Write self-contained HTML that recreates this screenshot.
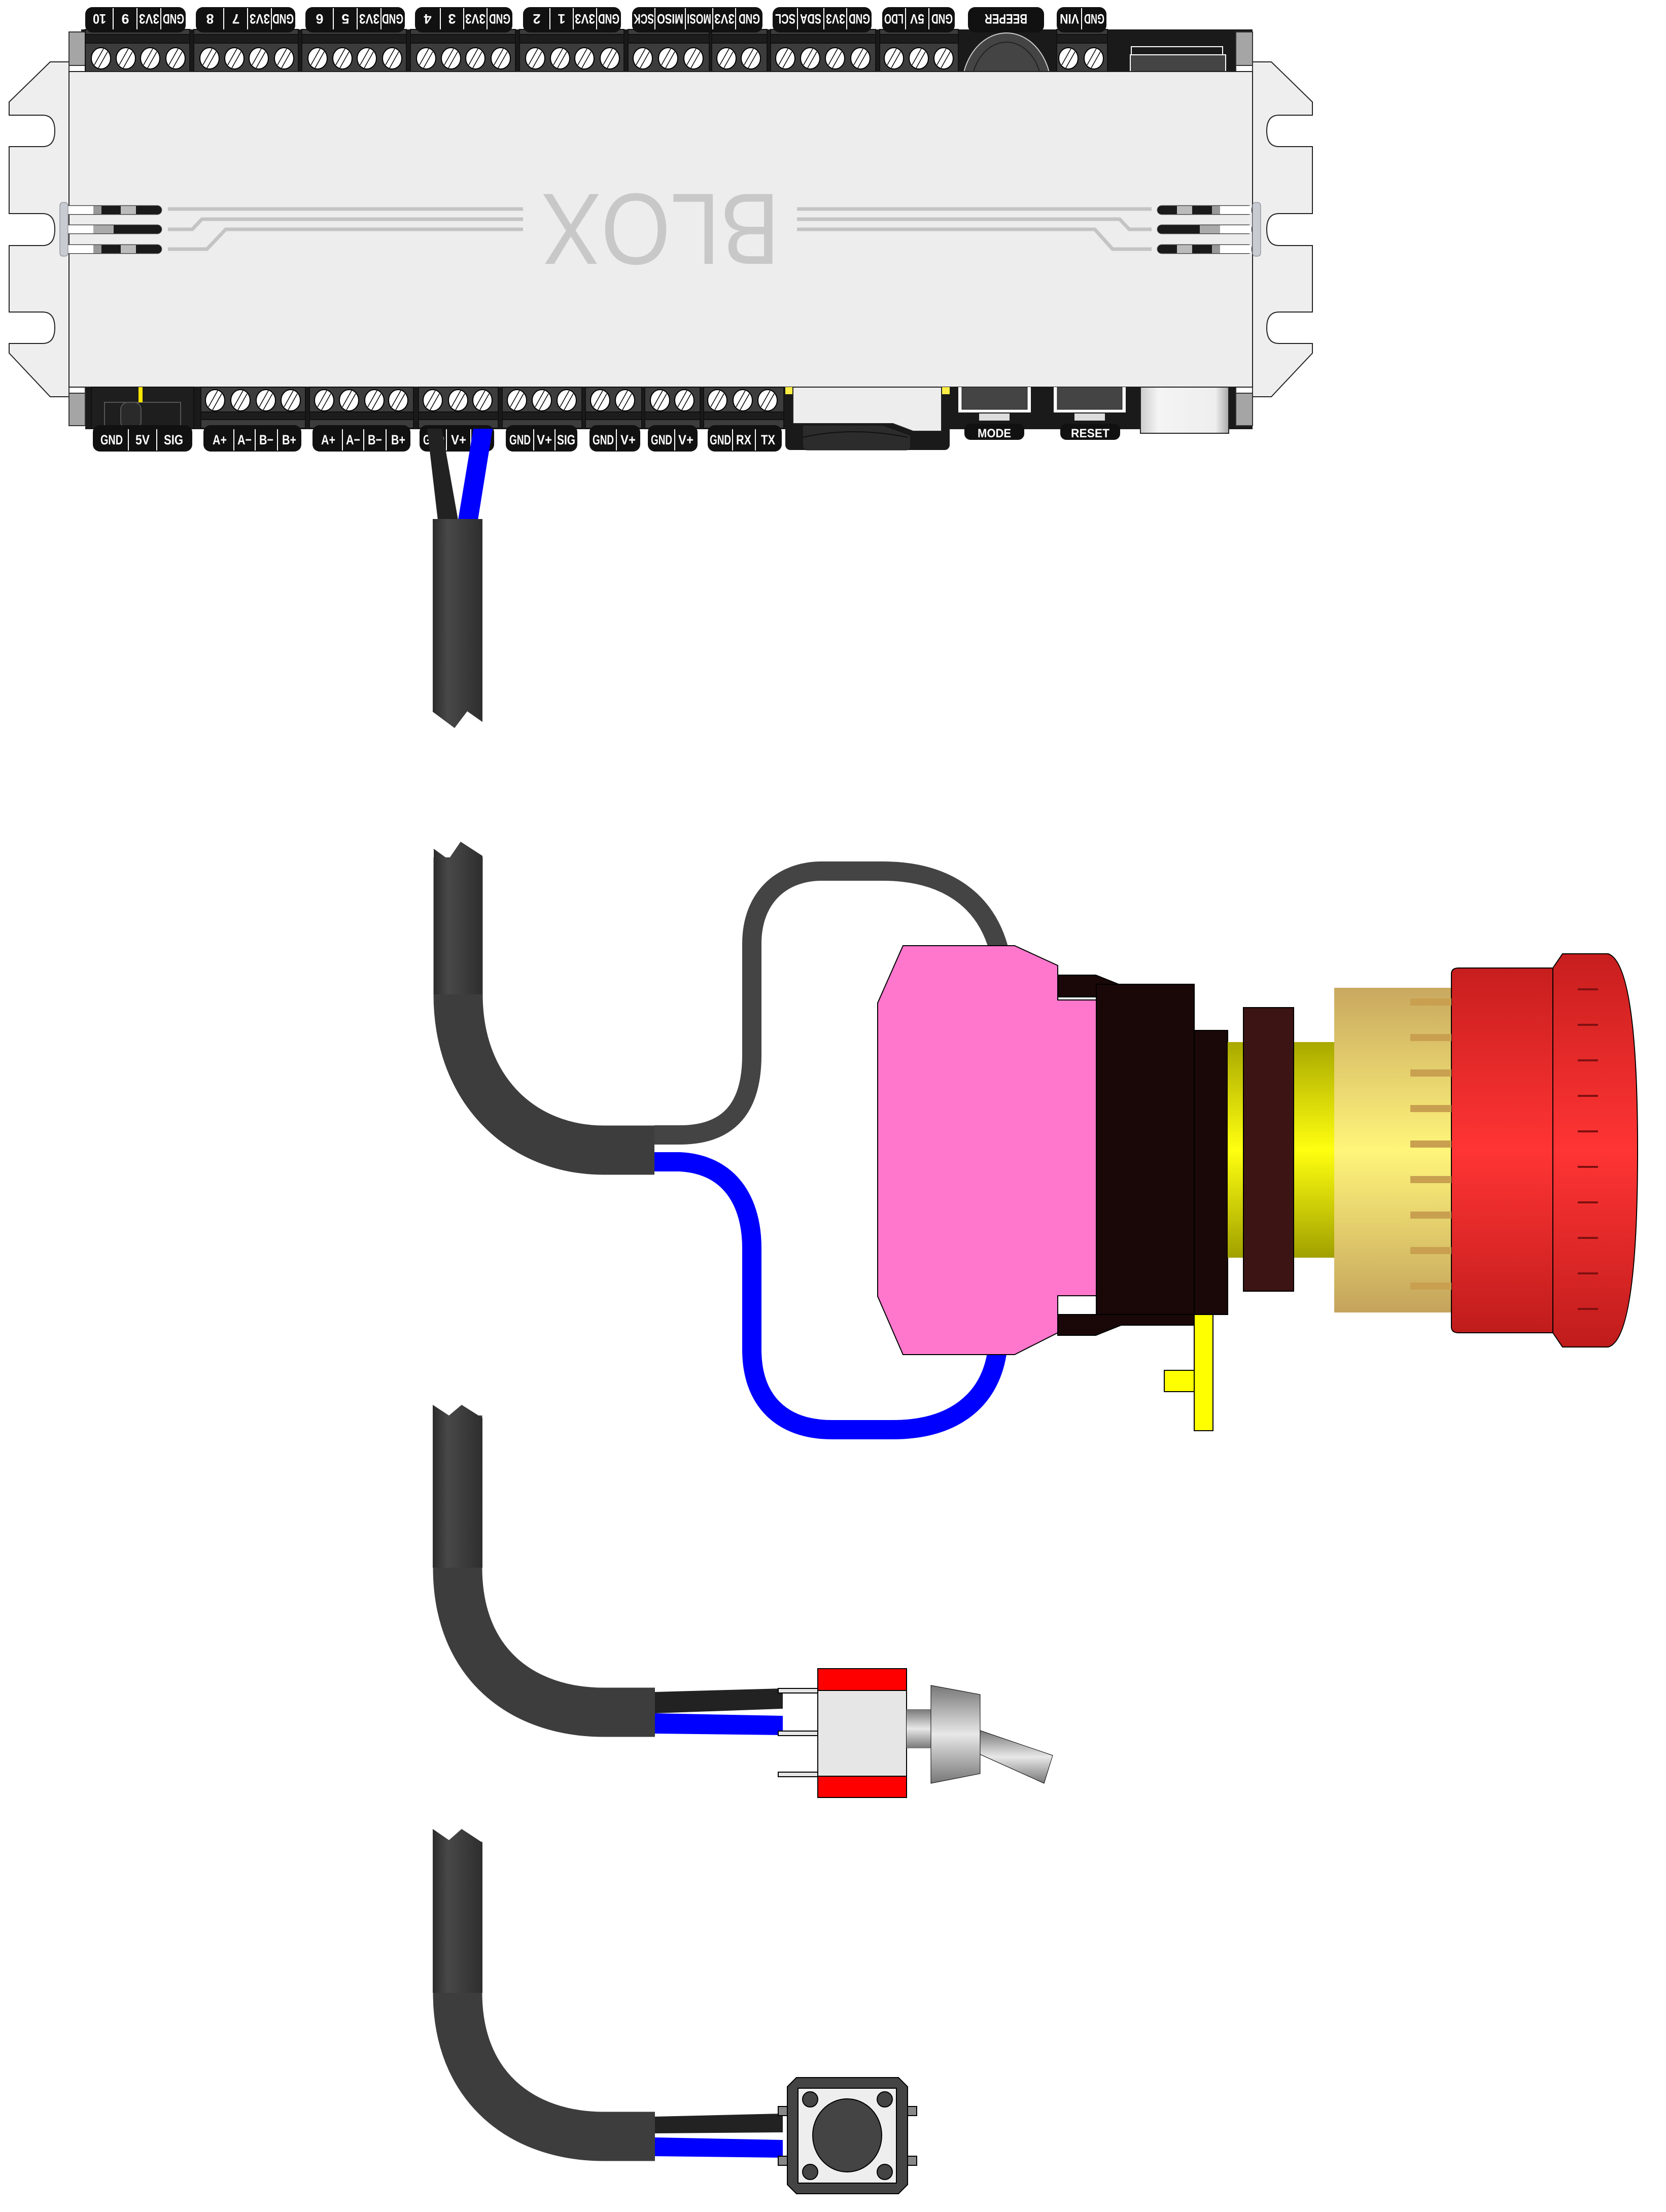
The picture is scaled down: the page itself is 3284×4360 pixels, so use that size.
<!DOCTYPE html>
<html><head><meta charset="utf-8"><style>html,body{margin:0;padding:0;background:#fff}svg{display:block}
.t{font-family:"Liberation Sans",sans-serif;font-weight:bold;font-size:27px;fill:#fff;text-anchor:middle}</style></head>
<body>
<svg width="3284" height="4360" viewBox="0 0 3284 4360" xmlns="http://www.w3.org/2000/svg">
<defs>
<g id="s"><ellipse rx="19" ry="21" fill="#fff" stroke="#000" stroke-width="2"/><line x1="-13" y1="13" x2="5" y2="-19" stroke="#000" stroke-width="1.5"/><line x1="-5" y1="19" x2="13" y2="-13" stroke="#000" stroke-width="1.5"/></g>
<linearGradient id="cg" x1="0" x2="1" y1="0" y2="0"><stop offset="0" stop-color="#2c2c2c"/><stop offset="0.3" stop-color="#484848"/><stop offset="1" stop-color="#2e2e2e"/></linearGradient>
<linearGradient id="yg" x1="0" x2="0" y1="0" y2="1"><stop offset="0" stop-color="#a8a800"/><stop offset="0.5" stop-color="#ffff10"/><stop offset="1" stop-color="#a0a000"/></linearGradient>
<linearGradient id="tg" x1="0" x2="0" y1="0" y2="1"><stop offset="0" stop-color="#c9a860"/><stop offset="0.5" stop-color="#fff57a"/><stop offset="1" stop-color="#c4a35c"/></linearGradient>
<linearGradient id="rg" x1="0" x2="0" y1="0" y2="1"><stop offset="0" stop-color="#c81e1e"/><stop offset="0.5" stop-color="#ff3434"/><stop offset="1" stop-color="#c01c1c"/></linearGradient>
<linearGradient id="mg" x1="0" x2="0" y1="0" y2="1"><stop offset="0" stop-color="#777"/><stop offset="0.5" stop-color="#e8e8e8"/><stop offset="1" stop-color="#777"/></linearGradient>
<linearGradient id="ug" x1="0" x2="1" y1="0" y2="0"><stop offset="0" stop-color="#ccc"/><stop offset="0.2" stop-color="#f4f4f4"/><stop offset="0.85" stop-color="#eee"/><stop offset="1" stop-color="#aaa"/></linearGradient>
</defs>

<!-- flanges -->
<path d="M136 122 L99 122 L18 201 L18 227 L84 227 Q108 227 108 258 Q108 289 84 289 L18 289 L18 421 L84 421 Q108 421 108 452 Q108 484 84 484 L18 484 L18 615 L84 615 Q108 615 108 646 Q108 677 84 677 L18 677 L18 696 L99 782 L136 782 Z" fill="#eeeeee" stroke="#222" stroke-width="2"/>
<g transform="translate(2605,0) scale(-1,1)"><path d="M136 122 L99 122 L18 201 L18 227 L84 227 Q108 227 108 258 Q108 289 84 289 L18 289 L18 421 L84 421 Q108 421 108 452 Q108 484 84 484 L18 484 L18 615 L84 615 Q108 615 108 646 Q108 677 84 677 L18 677 L18 696 L99 782 L136 782 Z" fill="#eeeeee" stroke="#222" stroke-width="2"/></g>

<!-- dark strips -->
<rect x="160" y="58" width="2309" height="84" fill="#1a1a1a"/>
<rect x="168" y="760" width="2301" height="86" fill="#1a1a1a"/>
<ellipse cx="1984" cy="175" rx="88" ry="110" fill="#444" stroke="#ccc" stroke-width="2"/>
<ellipse cx="1984" cy="175" rx="70" ry="92" fill="none" stroke="#222" stroke-width="2"/>
<rect x="2230" y="92" width="180" height="20" fill="none" stroke="#fff" stroke-width="2"/>
<rect x="2228" y="108" width="188" height="34" fill="#444" stroke="#fff" stroke-width="2"/>
<rect x="136" y="63" width="32" height="66" fill="#a5a5a5" stroke="#333" stroke-width="2"/>
<rect x="136" y="129" width="32" height="33" fill="#fff" stroke="#333" stroke-width="2"/>
<rect x="136" y="742" width="32" height="33" fill="#fff" stroke="#333" stroke-width="2"/>
<rect x="136" y="775" width="32" height="64" fill="#a5a5a5" stroke="#333" stroke-width="2"/>
<rect x="2436" y="63" width="33" height="66" fill="#a5a5a5" stroke="#333" stroke-width="2"/>
<rect x="2436" y="129" width="33" height="33" fill="#fff" stroke="#333" stroke-width="2"/>
<rect x="2436" y="742" width="33" height="33" fill="#fff" stroke="#333" stroke-width="2"/>
<rect x="2436" y="775" width="33" height="64" fill="#a5a5a5" stroke="#333" stroke-width="2"/>

<!-- top terminal blocks -->
<g stroke="#111" stroke-width="2">
<g fill="#3c3c3c">
<rect x="168" y="58" width="206" height="83"/><rect x="382" y="58" width="206" height="83"/><rect x="595" y="58" width="206" height="83"/><rect x="809" y="58" width="207" height="83"/><rect x="1024" y="58" width="206" height="83"/><rect x="1238" y="58" width="160" height="83"/><rect x="1403" y="58" width="109" height="83"/><rect x="1519" y="58" width="207" height="83"/><rect x="1734" y="58" width="155" height="83"/><rect x="2083" y="58" width="100" height="83"/>
</g>
<g fill="#1d1d1d">
<rect x="168" y="68" width="206" height="17"/><rect x="382" y="68" width="206" height="17"/><rect x="595" y="68" width="206" height="17"/><rect x="809" y="68" width="207" height="17"/><rect x="1024" y="68" width="206" height="17"/><rect x="1238" y="68" width="160" height="17"/><rect x="1403" y="68" width="109" height="17"/><rect x="1519" y="68" width="207" height="17"/><rect x="1734" y="68" width="155" height="17"/><rect x="2083" y="68" width="100" height="17"/>
</g></g>
<g transform="translate(0,115)">
<use href="#s" x="199"/><use href="#s" x="248"/><use href="#s" x="296"/><use href="#s" x="346"/>
<use href="#s" x="413"/><use href="#s" x="462"/><use href="#s" x="510"/><use href="#s" x="560"/>
<use href="#s" x="626"/><use href="#s" x="675"/><use href="#s" x="723"/><use href="#s" x="773"/>
<use href="#s" x="840"/><use href="#s" x="889"/><use href="#s" x="937"/><use href="#s" x="987"/>
<use href="#s" x="1055"/><use href="#s" x="1104"/><use href="#s" x="1152"/><use href="#s" x="1202"/>
<use href="#s" x="1267"/><use href="#s" x="1317"/><use href="#s" x="1367"/>
<use href="#s" x="1432"/><use href="#s" x="1480"/>
<use href="#s" x="1548"/><use href="#s" x="1597"/><use href="#s" x="1646"/><use href="#s" x="1696"/>
<use href="#s" x="1762"/><use href="#s" x="1811"/><use href="#s" x="1860"/>
<use href="#s" x="2106"/><use href="#s" x="2156"/>
</g>

<!-- top labels -->
<g fill="#111">
<rect x="168" y="14" width="198" height="50" rx="14"/><rect x="386" y="14" width="196" height="50" rx="14"/><rect x="602" y="14" width="196" height="50" rx="14"/><rect x="818" y="14" width="192" height="50" rx="14"/><rect x="1031" y="14" width="193" height="50" rx="14"/><rect x="1246" y="14" width="257" height="50" rx="14"/><rect x="1523" y="14" width="195" height="50" rx="14"/><rect x="1739" y="14" width="143" height="50" rx="14"/><rect x="1908" y="14" width="150" height="50" rx="14"/><rect x="2083" y="14" width="98" height="50" rx="14"/>
</g>
<g stroke="#fff" stroke-width="2">
<line x1="223" y1="16" x2="223" y2="58"/><line x1="270" y1="16" x2="270" y2="58"/><line x1="317" y1="16" x2="317" y2="58"/>
<line x1="441" y1="16" x2="441" y2="58"/><line x1="488" y1="16" x2="488" y2="58"/><line x1="535" y1="16" x2="535" y2="58"/>
<line x1="657" y1="16" x2="657" y2="58"/><line x1="704" y1="16" x2="704" y2="58"/><line x1="751" y1="16" x2="751" y2="58"/>
<line x1="868" y1="16" x2="868" y2="58"/><line x1="914" y1="16" x2="914" y2="58"/><line x1="960" y1="16" x2="960" y2="58"/>
<line x1="1084" y1="16" x2="1084" y2="58"/><line x1="1130" y1="16" x2="1130" y2="58"/><line x1="1176" y1="16" x2="1176" y2="58"/>
<line x1="1291" y1="16" x2="1291" y2="58"/><line x1="1351" y1="16" x2="1351" y2="58"/><line x1="1405" y1="16" x2="1405" y2="58"/><line x1="1450" y1="16" x2="1450" y2="58"/>
<line x1="1572" y1="16" x2="1572" y2="58"/><line x1="1624" y1="16" x2="1624" y2="58"/><line x1="1669" y1="16" x2="1669" y2="58"/>
<line x1="1785" y1="16" x2="1785" y2="58"/><line x1="1831" y1="16" x2="1831" y2="58"/>
<line x1="2132" y1="16" x2="2132" y2="58"/>
</g>
<g class="t" lengthAdjust="spacingAndGlyphs">
<text x="196" y="46" transform="rotate(180 196 37)" textLength="26" lengthAdjust="spacingAndGlyphs">10</text><text x="247" y="46" transform="rotate(180 247 37)">9</text><text x="294" y="46" transform="rotate(180 294 37)" textLength="40" lengthAdjust="spacingAndGlyphs">3V3</text><text x="342" y="46" transform="rotate(180 342 37)" textLength="42" lengthAdjust="spacingAndGlyphs">GND</text>
<text x="414" y="46" transform="rotate(180 414 37)">8</text><text x="465" y="46" transform="rotate(180 465 37)">7</text><text x="512" y="46" transform="rotate(180 512 37)" textLength="40" lengthAdjust="spacingAndGlyphs">3V3</text><text x="558" y="46" transform="rotate(180 558 37)" textLength="42" lengthAdjust="spacingAndGlyphs">GND</text>
<text x="630" y="46" transform="rotate(180 630 37)">6</text><text x="681" y="46" transform="rotate(180 681 37)">5</text><text x="728" y="46" transform="rotate(180 728 37)" textLength="40" lengthAdjust="spacingAndGlyphs">3V3</text><text x="774" y="46" transform="rotate(180 774 37)" textLength="42" lengthAdjust="spacingAndGlyphs">GND</text>
<text x="843" y="46" transform="rotate(180 843 37)">4</text><text x="891" y="46" transform="rotate(180 891 37)">3</text><text x="937" y="46" transform="rotate(180 937 37)" textLength="40" lengthAdjust="spacingAndGlyphs">3V3</text><text x="985" y="46" transform="rotate(180 985 37)" textLength="42" lengthAdjust="spacingAndGlyphs">GND</text>
<text x="1058" y="46" transform="rotate(180 1058 37)">2</text><text x="1107" y="46" transform="rotate(180 1107 37)">1</text><text x="1153" y="46" transform="rotate(180 1153 37)" textLength="40" lengthAdjust="spacingAndGlyphs">3V3</text><text x="1200" y="46" transform="rotate(180 1200 37)" textLength="42" lengthAdjust="spacingAndGlyphs">GND</text>
<text x="1269" y="46" transform="rotate(180 1269 37)" textLength="40" lengthAdjust="spacingAndGlyphs">SCK</text><text x="1321" y="46" transform="rotate(180 1321 37)" textLength="52" lengthAdjust="spacingAndGlyphs">MISO</text><text x="1378" y="46" transform="rotate(180 1378 37)" textLength="48" lengthAdjust="spacingAndGlyphs">MOSI</text><text x="1428" y="46" transform="rotate(180 1428 37)" textLength="40" lengthAdjust="spacingAndGlyphs">3V3</text><text x="1477" y="46" transform="rotate(180 1477 37)" textLength="42" lengthAdjust="spacingAndGlyphs">GND</text>
<text x="1548" y="46" transform="rotate(180 1548 37)" textLength="40" lengthAdjust="spacingAndGlyphs">SCL</text><text x="1598" y="46" transform="rotate(180 1598 37)" textLength="42" lengthAdjust="spacingAndGlyphs">SDA</text><text x="1647" y="46" transform="rotate(180 1647 37)" textLength="38" lengthAdjust="spacingAndGlyphs">3V3</text><text x="1694" y="46" transform="rotate(180 1694 37)" textLength="42" lengthAdjust="spacingAndGlyphs">GND</text>
<text x="1762" y="46" transform="rotate(180 1762 37)" textLength="38" lengthAdjust="spacingAndGlyphs">LDO</text><text x="1808" y="46" transform="rotate(180 1808 37)" textLength="28" lengthAdjust="spacingAndGlyphs">5V</text><text x="1857" y="46" transform="rotate(180 1857 37)" textLength="42" lengthAdjust="spacingAndGlyphs">GND</text>
<text x="1983" y="46" transform="rotate(180 1983 37)" textLength="84" lengthAdjust="spacingAndGlyphs">BEEPER</text>
<text x="2108" y="46" transform="rotate(180 2108 37)" textLength="38" lengthAdjust="spacingAndGlyphs">VIN</text><text x="2157" y="46" transform="rotate(180 2157 37)" textLength="40" lengthAdjust="spacingAndGlyphs">GND</text>
</g>

<!-- main panel -->
<rect x="136" y="141" width="2333" height="622" fill="#ededed" stroke="#222" stroke-width="2"/>
<g fill="none" stroke="#c4c4c4" stroke-width="7">
<path d="M331 412 L1031 412"/><path d="M331 452 L379 452 L398 432 L1031 432"/><path d="M331 491 L408 491 L445 452 L1031 452"/>
<path d="M1571 412 L2270 412"/><path d="M1571 432 L2207 432 L2226 452 L2270 452"/><path d="M1571 452 L2158 452 L2193 491 L2270 491"/>
</g>
<text x="1302" y="451" transform="rotate(180 1302 451)" font-family="'Liberation Sans',sans-serif" font-size="200" fill="#c8c8c8" text-anchor="middle" dominant-baseline="central" textLength="470" lengthAdjust="spacingAndGlyphs">BLOX</text>

<!-- side connectors -->
<g>
<rect x="120" y="405" width="199" height="18" rx="9" fill="#1a1a1a" stroke="#666"/><rect x="122" y="406" width="62" height="16" fill="#fff"/><rect x="184" y="406" width="16" height="16" fill="#999"/><rect x="238" y="406" width="30" height="16" fill="#bbb"/>
<rect x="120" y="443" width="199" height="18" rx="9" fill="#1a1a1a" stroke="#666"/><rect x="122" y="444" width="62" height="16" fill="#fff"/><rect x="184" y="444" width="40" height="16" fill="#aaa"/>
<rect x="120" y="482" width="199" height="18" rx="9" fill="#1a1a1a" stroke="#666"/><rect x="122" y="483" width="62" height="16" fill="#fff"/><rect x="184" y="483" width="16" height="16" fill="#999"/><rect x="238" y="483" width="30" height="16" fill="#bbb"/>
<rect x="118" y="399" width="16" height="106" rx="6" fill="#c8ccd2" stroke="#778"/>
<rect x="2281" y="405" width="188" height="18" rx="9" fill="#1a1a1a" stroke="#666"/><rect x="2405" y="406" width="62" height="16" fill="#fff"/><rect x="2389" y="406" width="16" height="16" fill="#999"/><rect x="2320" y="406" width="30" height="16" fill="#bbb"/>
<rect x="2281" y="443" width="188" height="18" rx="9" fill="#1a1a1a" stroke="#666"/><rect x="2405" y="444" width="62" height="16" fill="#fff"/><rect x="2365" y="444" width="40" height="16" fill="#aaa"/>
<rect x="2281" y="482" width="188" height="18" rx="9" fill="#1a1a1a" stroke="#666"/><rect x="2405" y="483" width="62" height="16" fill="#fff"/><rect x="2389" y="483" width="16" height="16" fill="#999"/><rect x="2320" y="483" width="30" height="16" fill="#bbb"/>
<rect x="2469" y="399" width="16" height="106" rx="6" fill="#c8ccd2" stroke="#778"/>
</g>

<!-- bottom blocks -->
<rect x="180" y="763" width="202" height="82" fill="#1e1e1e" stroke="#111" stroke-width="2"/>
<rect x="206" y="793" width="150" height="52" fill="none" stroke="#555" stroke-width="2"/>
<rect x="238" y="793" width="40" height="52" rx="14" fill="#2a2a2a" stroke="#555" stroke-width="2"/>
<rect x="273" y="763" width="8" height="30" fill="#ffe600"/>
<g stroke="#111" stroke-width="2">
<g fill="#3c3c3c">
<rect x="396" y="763" width="206" height="81"/><rect x="610" y="763" width="205" height="81"/><rect x="825" y="763" width="157" height="81"/><rect x="990" y="763" width="157" height="81"/><rect x="1154" y="763" width="111" height="81"/><rect x="1271" y="763" width="109" height="81"/><rect x="1387" y="763" width="158" height="81"/>
</g>
<g fill="#1d1d1d">
<rect x="396" y="812" width="206" height="15"/><rect x="610" y="812" width="205" height="15"/><rect x="825" y="812" width="157" height="15"/><rect x="990" y="812" width="157" height="15"/><rect x="1154" y="812" width="111" height="15"/><rect x="1271" y="812" width="109" height="15"/><rect x="1387" y="812" width="158" height="15"/>
</g></g>
<g transform="translate(0,789)">
<use href="#s" x="424"/><use href="#s" x="474"/><use href="#s" x="524"/><use href="#s" x="573"/>
<use href="#s" x="639"/><use href="#s" x="688"/><use href="#s" x="738"/><use href="#s" x="785"/>
<use href="#s" x="853"/><use href="#s" x="903"/><use href="#s" x="951"/>
<use href="#s" x="1019"/><use href="#s" x="1068"/><use href="#s" x="1117"/>
<use href="#s" x="1183"/><use href="#s" x="1232"/>
<use href="#s" x="1301"/><use href="#s" x="1349"/>
<use href="#s" x="1414"/><use href="#s" x="1464"/><use href="#s" x="1513"/>
</g>
<rect x="1548" y="763" width="324" height="124" rx="10" fill="#1a1a1a"/>
<rect x="1548" y="763" width="18" height="14" fill="#ffee44"/><rect x="1854" y="763" width="18" height="14" fill="#ffee44"/>
<path d="M1563 763 L1856 763 L1856 850 L1800 850 L1760 835 L1563 835 Z" fill="#ededed" stroke="#222" stroke-width="2"/>
<path d="M1582 838 L1740 838 L1795 858 L1795 880 Q1795 887 1785 887 L1592 887 Q1582 887 1582 877 Z" fill="#2c2c2c" stroke="#111"/>
<path d="M1582 862 Q1680 840 1790 862" fill="none" stroke="#111" stroke-width="2"/>
<rect x="1872" y="763" width="376" height="78" fill="#1a1a1a"/>
<rect x="1889" y="763" width="143" height="50" fill="#fff"/><rect x="1896" y="763" width="129" height="44" fill="#444" stroke="#222"/>
<rect x="1930" y="815" width="60" height="14" fill="#ddd"/>
<rect x="2077" y="763" width="142" height="50" fill="#fff"/><rect x="2084" y="763" width="128" height="44" fill="#444" stroke="#222"/>
<rect x="2118" y="815" width="60" height="14" fill="#ddd"/>
<rect x="2248" y="763" width="174" height="91" fill="url(#ug)" stroke="#222" stroke-width="2"/>
<g fill="#111">
<rect x="183" y="838" width="196" height="52" rx="14"/><rect x="401" y="838" width="193" height="52" rx="14"/><rect x="616" y="838" width="193" height="52" rx="14"/><rect x="827" y="838" width="147" height="52" rx="14"/><rect x="997" y="838" width="141" height="52" rx="14"/><rect x="1162" y="838" width="100" height="52" rx="14"/><rect x="1277" y="838" width="98" height="52" rx="14"/><rect x="1395" y="838" width="146" height="52" rx="14"/><rect x="1901" y="835" width="118" height="32" rx="12"/><rect x="2090" y="835" width="118" height="32" rx="12"/>
</g>
<g stroke="#fff" stroke-width="2">
<line x1="253" y1="846" x2="253" y2="888"/><line x1="309" y1="846" x2="309" y2="888"/>
<line x1="461" y1="846" x2="461" y2="888"/><line x1="503" y1="846" x2="503" y2="888"/><line x1="547" y1="846" x2="547" y2="888"/>
<line x1="675" y1="846" x2="675" y2="888"/><line x1="717" y1="846" x2="717" y2="888"/><line x1="761" y1="846" x2="761" y2="888"/>
<line x1="880" y1="846" x2="880" y2="888"/><line x1="928" y1="846" x2="928" y2="888"/>
<line x1="1052" y1="846" x2="1052" y2="888"/><line x1="1094" y1="846" x2="1094" y2="888"/>
<line x1="1215" y1="846" x2="1215" y2="888"/>
<line x1="1330" y1="846" x2="1330" y2="888"/>
<line x1="1444" y1="846" x2="1444" y2="888"/><line x1="1489" y1="846" x2="1489" y2="888"/>
</g>
<g class="t">
<text x="220" y="876" textLength="44" lengthAdjust="spacingAndGlyphs">GND</text><text x="281" y="876" textLength="28" lengthAdjust="spacingAndGlyphs">5V</text><text x="342" y="876" textLength="38" lengthAdjust="spacingAndGlyphs">SIG</text>
<text x="433" y="876" textLength="28" lengthAdjust="spacingAndGlyphs">A+</text><text x="482" y="876" textLength="28" lengthAdjust="spacingAndGlyphs">A−</text><text x="525" y="876" textLength="28" lengthAdjust="spacingAndGlyphs">B−</text><text x="570" y="876" textLength="28" lengthAdjust="spacingAndGlyphs">B+</text>
<text x="647" y="876" textLength="28" lengthAdjust="spacingAndGlyphs">A+</text><text x="696" y="876" textLength="28" lengthAdjust="spacingAndGlyphs">A−</text><text x="739" y="876" textLength="28" lengthAdjust="spacingAndGlyphs">B−</text><text x="785" y="876" textLength="28" lengthAdjust="spacingAndGlyphs">B+</text>
<text x="855" y="876" textLength="42" lengthAdjust="spacingAndGlyphs">GND</text><text x="904" y="876" textLength="30" lengthAdjust="spacingAndGlyphs">V+</text><text x="950" y="876" textLength="36" lengthAdjust="spacingAndGlyphs">SIG</text>
<text x="1025" y="876" textLength="42" lengthAdjust="spacingAndGlyphs">GND</text><text x="1073" y="876" textLength="30" lengthAdjust="spacingAndGlyphs">V+</text><text x="1116" y="876" textLength="36" lengthAdjust="spacingAndGlyphs">SIG</text>
<text x="1189" y="876" textLength="42" lengthAdjust="spacingAndGlyphs">GND</text><text x="1238" y="876" textLength="30" lengthAdjust="spacingAndGlyphs">V+</text>
<text x="1304" y="876" textLength="42" lengthAdjust="spacingAndGlyphs">GND</text><text x="1352" y="876" textLength="30" lengthAdjust="spacingAndGlyphs">V+</text>
<text x="1420" y="876" textLength="42" lengthAdjust="spacingAndGlyphs">GND</text><text x="1466" y="876" textLength="30" lengthAdjust="spacingAndGlyphs">RX</text><text x="1514" y="876" textLength="28" lengthAdjust="spacingAndGlyphs">TX</text>
<text x="1960" y="862" font-size="24" textLength="66" lengthAdjust="spacingAndGlyphs">MODE</text><text x="2149" y="862" font-size="24" textLength="76" lengthAdjust="spacingAndGlyphs">RESET</text>
</g>

<!-- wires from board -->
<polygon points="842,845 871,845 903,1025 863,1025" fill="#222"/>
<polygon points="933,845 971,845 942,1025 903,1025" fill="#0000ff"/>
<polygon points="853,1023 951,1023 951,1423 921,1402 896,1435 853,1403" fill="url(#cg)"/>

<!-- E-stop cable -->
<path d="M1290 2237 L1340 2237 C1440 2237 1482 2180 1482 2080 L1482 1860 C1482 1770 1540 1717 1620 1717 L1740 1717 C1860 1717 1940 1770 1968 1868" fill="none" stroke="#444" stroke-width="38"/>
<path d="M1290 2290 L1340 2290 C1440 2295 1482 2370 1482 2460 L1482 2660 C1482 2760 1540 2818 1640 2818 L1760 2818 C1880 2818 1950 2760 1965 2668" fill="none" stroke="#0000ff" stroke-width="38"/>
<path d="M903 1690 L903 1960 C903 2150 1030 2267 1190 2267 L1290 2267" fill="none" stroke="#3d3d3d" stroke-width="97"/>
<polygon points="855,1692 855,1673 884,1694 908,1659 951,1687 951,1960 855,1960" fill="url(#cg)"/>

<g stroke="#000" stroke-width="2">
<path d="M2085 1922 L2160 1922 L2210 1942 L2354 1942 L2354 1965 L2085 1965 Z" fill="#1a0808"/>
<path d="M2085 2591 L2354 2591 L2354 2612 L2210 2612 L2160 2632 L2085 2632 Z" fill="#1a0808"/>
<polygon points="1780,1864 2000,1864 2085,1903 2085,1971 2161,1971 2161,2554 2085,2554 2085,2627 2000,2670 1780,2670 1730,2555 1730,1977" fill="#ff77cc"/>
<rect x="2161" y="1940" width="193" height="651" fill="#1a0808"/>
<rect x="2354" y="2031" width="66" height="560" fill="#1a0808"/>
<rect x="2420" y="2054" width="210" height="425" fill="url(#yg)" stroke="none"/>
<rect x="2451" y="1986" width="99" height="559" fill="#3c1414"/>
<rect x="2630" y="1947" width="231" height="640" fill="url(#tg)" stroke="none"/>
<rect x="2354" y="2591" width="37" height="229" fill="#ffff00"/>
<rect x="2295" y="2701" width="59" height="42" fill="#ffff00"/>
<path d="M2861 1920 Q2861 1908 2875 1908 L3061 1908 L3061 2627 L2875 2627 Q2861 2627 2861 2615 Z" fill="url(#rg)"/>
<path d="M3061 1908 L3080 1880 L3170 1880 Q3228 1900 3228 2267 Q3228 2640 3170 2655 L3080 2655 L3061 2627 Z" fill="url(#rg)"/>
</g>
<g stroke="#c8a050" stroke-width="14">
<line x1="2780" y1="1975" x2="2861" y2="1975"/><line x1="2780" y1="2045" x2="2861" y2="2045"/><line x1="2780" y1="2115" x2="2861" y2="2115"/><line x1="2780" y1="2185" x2="2861" y2="2185"/><line x1="2780" y1="2255" x2="2861" y2="2255"/><line x1="2780" y1="2325" x2="2861" y2="2325"/><line x1="2780" y1="2395" x2="2861" y2="2395"/><line x1="2780" y1="2465" x2="2861" y2="2465"/><line x1="2780" y1="2535" x2="2861" y2="2535"/>
</g>
<g fill="none" stroke="#801010" stroke-width="4">
<path d="M3110 1950 L3150 1950"/><path d="M3110 2020 L3150 2020"/><path d="M3110 2090 L3150 2090"/><path d="M3110 2160 L3150 2160"/><path d="M3110 2230 L3150 2230"/><path d="M3110 2300 L3150 2300"/><path d="M3110 2370 L3150 2370"/><path d="M3110 2440 L3150 2440"/><path d="M3110 2510 L3150 2510"/><path d="M3110 2580 L3150 2580"/>
</g>

<!-- toggle switch -->
<polygon points="1291,3335 1543,3328 1543,3368 1291,3377" fill="#222"/>
<polygon points="1291,3377 1543,3382 1543,3420 1291,3417" fill="#0000ff"/>
<path d="M902 2790 L902 3090 C902 3280 1030 3375 1190 3375 L1291 3375" fill="none" stroke="#3d3d3d" stroke-width="97"/>
<polygon points="853,2800 853,2769 885,2790 910,2769 951,2795 951,3090 853,3090" fill="url(#cg)"/>
<g stroke="#000" stroke-width="2">
<rect x="1534" y="3328" width="78" height="9" fill="#e6e6e6"/>
<rect x="1534" y="3412" width="78" height="9" fill="#e6e6e6"/>
<rect x="1534" y="3493" width="78" height="9" fill="#e6e6e6"/>
<rect x="1612" y="3332" width="175" height="169" fill="#e6e6e6"/>
<rect x="1612" y="3289" width="175" height="43" fill="#ff0000"/>
<rect x="1612" y="3501" width="175" height="42" fill="#ff0000"/>
<rect x="1787" y="3369" width="48" height="77" fill="url(#mg)" stroke="none"/>
<polygon points="1932,3411 2075,3460 2058,3515 1932,3458" fill="url(#mg)" stroke-width="1"/>
<polygon points="1835,3322 1932,3340 1932,3496 1835,3515" fill="url(#mg)" stroke-width="1"/>
</g>

<!-- pushbutton -->
<polygon points="1291,4172 1543,4166 1543,4203 1291,4205" fill="#222"/>
<polygon points="1291,4213 1543,4218 1543,4253 1291,4250" fill="#0000ff"/>
<path d="M902 3630 L902 3928 C902 4115 1030 4211 1190 4211 L1291 4211" fill="none" stroke="#3d3d3d" stroke-width="97"/>
<polygon points="853,3637 853,3605 885,3627 910,3605 951,3632 951,3928 853,3928" fill="url(#cg)"/>
<g stroke="#000" stroke-width="2">
<rect x="1534" y="4152" width="20" height="18" fill="#888"/><rect x="1534" y="4250" width="20" height="18" fill="#888"/>
<rect x="1787" y="4152" width="20" height="18" fill="#888"/><rect x="1787" y="4250" width="20" height="18" fill="#888"/>
<polygon points="1570,4095 1771,4095 1789,4113 1789,4306 1771,4324 1570,4324 1552,4306 1552,4113" fill="#444"/>
<rect x="1573" y="4116" width="194" height="187" fill="#eee"/>
<ellipse cx="1670" cy="4209" rx="68" ry="72" fill="#444"/>
<circle cx="1597" cy="4138" r="15" fill="#444"/><circle cx="1744" cy="4138" r="15" fill="#444"/>
<circle cx="1597" cy="4281" r="15" fill="#444"/><circle cx="1744" cy="4281" r="15" fill="#444"/>
</g>
</svg>
</body></html>
